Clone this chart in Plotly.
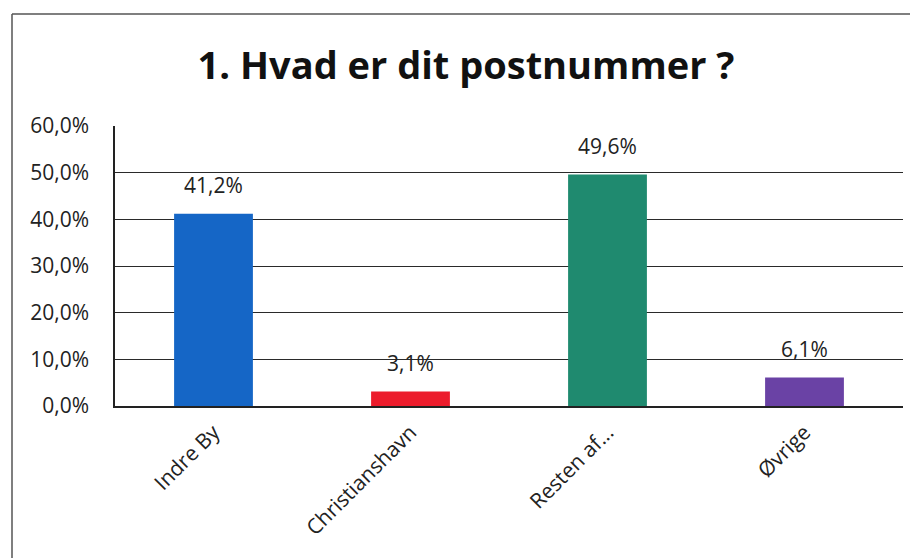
import plotly.graph_objects as go

categories = ["Indre By", "Christianshavn", "Resten af...", "Øvrige"]
values = [41.2, 3.1, 49.6, 6.1]
colors = ["#1566C6", "#EC1C2C", "#1F8A6F", "#6A42A5"]
y_ticks = [0, 10, 20, 30, 40, 50, 60]
y_tick_labels = [f"{t:.1f}%".replace(".", ",") for t in y_ticks]
title_text = "1. Hvad er dit postnummer ?"

OFF = 8  # page body margin
W, H = 918 - OFF, 558 - OFF
# target plot area in window pixels: x 115..903, y 126..406
L, R = 115 - OFF, W - (903 - OFF)
T, B = 126 - OFF, H - (406 - OFF)
pw, ph = W - L - R, H - T - B

def px(x):
    return (x - OFF - L) / pw

def py(y):
    return (H - B - (y - OFF)) / ph

fig = go.Figure(go.Bar(
    x=categories, y=values,
    marker=dict(color=colors, line=dict(width=0)),
    cliponaxis=False,
))

annotations = [
    dict(x=c, y=v, xref="x", yref="y", text=f"{v:.1f}%".replace(".", ","),
         showarrow=False, yanchor="bottom", yshift=13,
         font=dict(family="Open Sans", size=21, color="#222"))
    for c, v in zip(categories, values)
]

fig.update_layout(
    width=W, height=H,
    margin=dict(l=L, r=R, t=T, b=B),
    paper_bgcolor="white", plot_bgcolor="white",
    bargap=0.6,
    showlegend=False,
    title=dict(text="<b>" + title_text + "</b>", x=(466 - OFF) / W, xanchor="center",
               y=1 - (66 - OFF) / H, yanchor="middle",
               font=dict(family="Open Sans", size=38, color="#111")),
    xaxis=dict(tickangle=-45, showgrid=False, showline=True, linecolor="#222",
               linewidth=1.5, ticks="", ticklabelstandoff=4,
               tickfont=dict(family="Open Sans", size=21, color="#222")),
    yaxis=dict(range=[0, 60], tickvals=y_ticks, ticktext=y_tick_labels,
               showgrid=True, gridcolor="#2a2a2a", gridwidth=1.3,
               showline=True, linecolor="#222", linewidth=1.5, ticks="",
               zeroline=False, ticklabelstandoff=20,
               tickfont=dict(family="Open Sans", size=21, color="#222")),
    annotations=annotations,
    shapes=[
        dict(type="line", xref="paper", yref="paper", x0=px(12), x1=px(918),
             y0=py(14), y1=py(14), line=dict(color="#555", width=1.5)),
        dict(type="line", xref="paper", yref="paper", x0=px(12), x1=px(12),
             y0=py(14), y1=py(558), line=dict(color="#555", width=1.5)),
    ],
)

fig.write_html("out.html")
